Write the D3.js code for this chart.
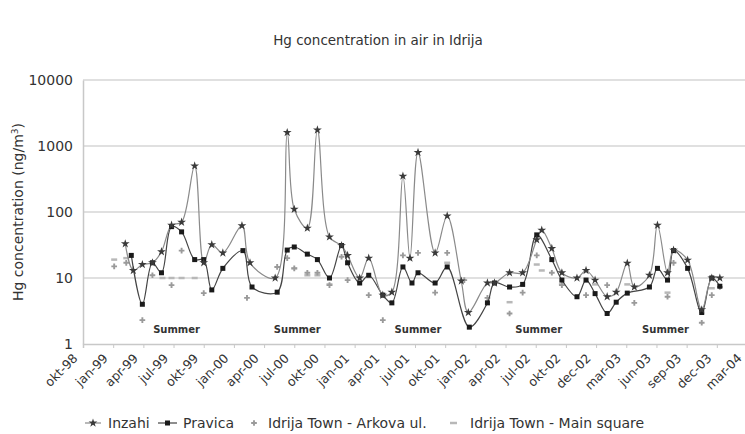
<!DOCTYPE html>
<html>
<head>
<meta charset="utf-8">
<script src="https://d3js.org/d3.v7.min.js"></script>
<style>
  body { margin: 0; background: #fff; }
  svg { font-family: "DejaVu Sans", sans-serif; }
</style>
</head>
<body>
<svg width="745" height="434"></svg>
<script>
// month index 0 = okt-98
const xTickLabels = ["okt-98", "jan-99", "apr-99", "jul-99", "okt-99", "jan-00", "apr-00", "jul-00",
  "okt-00", "jan-01", "apr-01", "jul-01", "okt-01", "jan-02", "apr-02", "jul-02", "okt-02",
  "dec-02", "mar-03", "jun-03", "sep-03", "dec-03", "mar-04"];
const yTicks = [1, 10, 100, 1000, 10000];
const summerMonths = [9.3, 21.3, 33.3, 45.3, 57.9];

const inzahiMonths = [4.2, 5.0, 5.9, 6.9, 7.8, 8.8, 9.8, 11.1, 12.0, 12.8, 13.9, 15.8, 16.6, 19.1, 20.3,
  21.0, 22.3, 23.3, 24.5, 25.7, 26.3, 27.5, 28.4, 29.8, 30.7, 31.8, 32.5, 33.3, 35.0, 36.2, 37.6, 38.3,
  40.2, 40.9, 42.4, 43.7, 45.1, 45.6, 46.6, 47.6, 49.1, 50.0, 50.9, 52.1, 53.0, 54.1, 54.8, 56.3, 57.1,
  58.1, 58.7, 60.1, 61.5, 62.5, 63.3];
const inzahiValues = [33, 13, 16, 17, 25, 63, 70, 500, 17, 32, 24, 62, 17, 10, 1600,
  110, 57, 1750, 42, 31, 22, 10, 20, 5.5, 6.1, 350, 20, 800, 24, 87, 9, 3.0,
  8.4, 8.4, 12, 12, 38, 53, 28, 12, 10, 13, 9.3, 5.2, 6.1, 16.8, 7.3, 11, 63,
  12, 26.5, 18.7, 3.3, 10, 10];

const pravicaMonths = [4.8, 5.9, 6.9, 7.8, 8.8, 9.8, 11.1, 12.0, 12.8, 13.9, 15.9, 16.8, 19.3, 20.3,
  21.0, 22.3, 23.3, 24.5, 25.7, 26.3, 27.5, 28.4, 29.8, 30.7, 31.8, 32.7, 33.3, 35.0, 36.2, 38.4,
  40.2, 40.9, 42.4, 43.7, 45.1, 46.6, 47.6, 49.1, 50.0, 50.9, 52.1, 53.0, 54.1, 56.3, 57.1, 58.1,
  58.7, 60.1, 61.5, 62.5, 63.3];
const pravicaValues = [22, 4.0, 17, 12, 60, 50, 19, 19, 6.6, 14, 26, 7.3, 6.1, 26.5,
  29.5, 23, 19, 10, 31, 17, 8.4, 11, 5.5, 4.2, 14.7, 8.4, 12, 8.4, 14.7, 1.8,
  4.2, 8.4, 7.3, 8, 45, 19, 9.3, 5.2, 9.3, 5.8, 2.9, 4.3, 5.9, 7.3, 14, 9.3,
  26, 14, 3.0, 10, 7.5];

const arkovaMonths = [3.1, 4.3, 5.9, 6.9, 8.8, 9.8, 12.0, 16.3, 19.3, 20.3, 21.0, 22.3, 23.3, 24.5,
  25.7, 26.3, 28.4, 29.8, 31.8, 33.3, 35.0, 36.2, 37.9, 40.2, 42.4, 43.7, 45.1, 46.6, 47.6, 50.0,
  52.1, 54.8, 58.1, 58.7, 61.5, 62.5, 63.3];
const arkovaValues = [15, 17, 2.3, 11, 7.8, 26, 5.9, 5, 14.7, 20, 14, 12, 12, 7.8,
  21, 9.3, 5.5, 2.3, 22, 24, 6, 24, 9.3, 5, 2.9, 6, 22, 12, 7.8, 5.5,
  7.8, 4.2, 5.2, 17, 2.1, 5.5, 7.3];

const mainSquareMonths = [3.1, 4.3, 7.9, 8.8, 9.8, 11.1, 21.0, 22.3, 23.3, 24.5, 36.2, 42.4, 45.1,
  45.6, 47.6, 50.9, 54.1, 58.1, 62.5];
const mainSquareValues = [19, 20, 10, 10, 10, 10, 14, 11, 11, 8, 17, 4.3, 16,
  13, 8, 8, 8, 6, 7];

const svg = d3.select("svg");
const plot = { left: 83, right: 747, top: 80, bottom: 344 };

const x = d3.scaleLinear().domain([0, 66]).range([plot.left, plot.right]);
const y = d3.scaleLog().domain([1, 10000]).range([plot.bottom, plot.top]);

// title
svg.append("text")
  .attr("x", 378).attr("y", 45)
  .attr("text-anchor", "middle")
  .attr("font-size", 13.5)
  .attr("fill", "#333")
  .text("Hg concentration in air in Idrija");

// gridlines
svg.append("g")
  .selectAll("line")
  .data(yTicks.slice(1))
  .join("line")
  .attr("x1", plot.left).attr("x2", 745)
  .attr("y1", d => y(d)).attr("y2", d => y(d))
  .attr("stroke", "#d6d6d6")
  .attr("stroke-width", 1.5);

// y axis
const yAxis = svg.append("g")
  .attr("transform", "translate(" + plot.left + ",0)")
  .call(d3.axisLeft(y).tickValues(yTicks).tickFormat(d3.format("d")).tickSize(0).tickPadding(10));
yAxis.select(".domain").attr("stroke", "#c8c8c8").attr("stroke-width", 1.5);
yAxis.selectAll("text").attr("font-size", 14).attr("fill", "#333")
  .attr("font-family", "DejaVu Sans");

// x axis
const xAxis = svg.append("g")
  .attr("transform", "translate(0," + plot.bottom + ")")
  .call(d3.axisBottom(x)
    .tickValues(xTickLabels.map((d, i) => i * 3))
    .tickFormat((d, i) => xTickLabels[i])
    .tickSize(4));
xAxis.select(".domain").attr("stroke", "#c8c8c8").attr("stroke-width", 1.5);
xAxis.selectAll(".tick line").attr("stroke", "#c8c8c8");
xAxis.selectAll("text")
  .attr("font-size", 12.5)
  .attr("font-family", "DejaVu Sans")
  .attr("fill", "#333")
  .attr("x", 0)
  .attr("y", 0)
  .attr("dy", 0)
  .attr("transform", "translate(-5,15) rotate(-45)")
  .style("text-anchor", "end");

// y axis title
svg.append("text")
  .attr("transform", "translate(23,212) rotate(-90)")
  .attr("text-anchor", "middle")
  .attr("font-size", 14)
  .attr("fill", "#333")
  .call(t => {
    t.append("tspan").text("Hg concentration (ng/m");
    t.append("tspan").attr("baseline-shift", "super").attr("font-size", 9).text("3");
    t.append("tspan").text(")");
  });

// summer labels
svg.append("g")
  .selectAll("text")
  .data(summerMonths)
  .join("text")
  .attr("x", d => x(d))
  .attr("y", 333)
  .attr("text-anchor", "middle")
  .attr("font-size", 10)
  .attr("font-weight", "bold")
  .attr("fill", "#333")
  .text("Summer");

const toPoints = (months, values) => months.map((m, i) => ({ m: m, v: values[i] }));
const inzahi = toPoints(inzahiMonths, inzahiValues);
const pravica = toPoints(pravicaMonths, pravicaValues);
const arkova = toPoints(arkovaMonths, arkovaValues);
const mainSquare = toPoints(mainSquareMonths, mainSquareValues);

const line = d3.line()
  .x(d => x(d.m))
  .y(d => y(d.v))
  .curve(d3.curveCatmullRom.alpha(0.5));

// Idrija Town - Main square markers
svg.append("g")
  .selectAll("line")
  .data(mainSquare)
  .join("line")
  .attr("x1", d => x(d.m) - 3).attr("x2", d => x(d.m) + 3)
  .attr("y1", d => y(d.v)).attr("y2", d => y(d.v))
  .attr("stroke", "#b8b8b8")
  .attr("stroke-width", 2.5);

// Idrija Town - Arkova ul. markers
svg.append("g")
  .selectAll("path")
  .data(arkova)
  .join("path")
  .attr("transform", d => "translate(" + x(d.m) + "," + y(d.v) + ")")
  .attr("d", d3.symbol(d3.symbolCross, 18))
  .attr("fill", "#9a9a9a");

// Pravica
svg.append("path")
  .datum(pravica)
  .attr("d", line)
  .attr("fill", "none")
  .attr("stroke", "#444")
  .attr("stroke-width", 1.2);

// Inzahi
svg.append("path")
  .datum(inzahi)
  .attr("d", line)
  .attr("fill", "none")
  .attr("stroke", "#8a8a8a")
  .attr("stroke-width", 1.2);

svg.append("g")
  .selectAll("rect")
  .data(pravica)
  .join("rect")
  .attr("x", d => x(d.m) - 2.5).attr("y", d => y(d.v) - 2.5)
  .attr("width", 5).attr("height", 5)
  .attr("fill", "#1a1a1a");

svg.append("g")
  .selectAll("path")
  .data(inzahi)
  .join("path")
  .attr("transform", d => "translate(" + x(d.m) + "," + y(d.v) + ")")
  .attr("d", d3.symbol(d3.symbolStar, 24))
  .attr("fill", "#3a3a3a");

// legend
const legendY = 423;
const lg = svg.append("g").attr("font-size", 14).attr("fill", "#333");

lg.append("line").attr("x1", 85).attr("x2", 101).attr("y1", legendY).attr("y2", legendY)
  .attr("stroke", "#8a8a8a").attr("stroke-width", 1.2);
lg.append("path").attr("transform", "translate(93," + legendY + ")")
  .attr("d", d3.symbol(d3.symbolStar, 24)).attr("fill", "#3a3a3a");
lg.append("text").attr("x", 108).attr("y", legendY + 5).text("Inzahi");

lg.append("line").attr("x1", 158).attr("x2", 177).attr("y1", legendY).attr("y2", legendY)
  .attr("stroke", "#444").attr("stroke-width", 1.2);
lg.append("rect").attr("x", 165).attr("y", legendY - 2.5).attr("width", 5).attr("height", 5)
  .attr("fill", "#1a1a1a");
lg.append("text").attr("x", 183).attr("y", legendY + 5).text("Pravica");

lg.append("path").attr("transform", "translate(254," + legendY + ")")
  .attr("d", d3.symbol(d3.symbolCross, 18)).attr("fill", "#9a9a9a");
lg.append("text").attr("x", 268).attr("y", legendY + 5).text("Idrija Town - Arkova ul.");

lg.append("line").attr("x1", 450).attr("x2", 457).attr("y1", legendY).attr("y2", legendY)
  .attr("stroke", "#b8b8b8").attr("stroke-width", 2.5);
lg.append("text").attr("x", 470).attr("y", legendY + 5).text("Idrija Town - Main square");
</script>
</body>
</html>
